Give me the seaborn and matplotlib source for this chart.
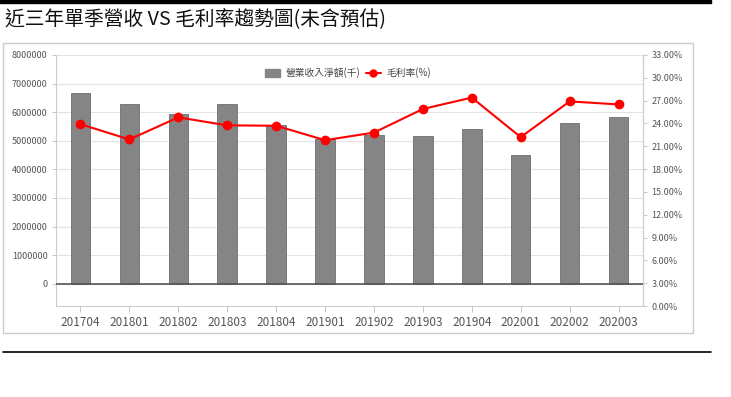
import numpy as np
import pandas as pd
import matplotlib
matplotlib.use("Agg")
import matplotlib.pyplot as plt
import matplotlib.patches as mpatches
from matplotlib.lines import Line2D
import seaborn as sns

sns.set_theme(style="white")
plt.rcParams['font.family'] = ['Noto Sans CJK TC', 'DejaVu Sans']

# data
quarters = ["201704", "201801", "201802", "201803", "201804", "201901",
            "201902", "201903", "201904", "202001", "202002", "202003"]
revenue = [6680000, 6270000, 5920000, 6270000, 5560000, 5070000,
           5190000, 5150000, 5420000, 4510000, 5630000, 5830000]
margin = [23.9, 21.9, 24.8, 23.75, 23.7, 21.8,
          22.8, 25.9, 27.4, 22.2, 26.9, 26.5]
left_ticks = [0, 1000000, 2000000, 3000000, 4000000, 5000000, 6000000, 7000000, 8000000]
right_ticks = [0, 3, 6, 9, 12, 15, 18, 21, 24, 27, 30, 33]

df = pd.DataFrame({"quarter": quarters, "revenue": revenue, "margin": margin})
df["pos"] = np.arange(len(quarters))

fig = plt.figure(figsize=(7.31, 3.97), dpi=100)
ax = fig.add_axes([56 / 731, 91 / 397, 587 / 731, 251 / 397])

bar_color = "#858585"
sns.barplot(data=df, x="quarter", y="revenue", color=bar_color, width=0.4,
            saturation=1, edgecolor="#6e6e6e", linewidth=0.6, ax=ax)
ax.set_xlim(-0.5, len(quarters) - 0.5)
ax.set_ylim(-780000, 8000000)
ax.set_yticks(left_ticks)
ax.set_yticklabels([str(v) for v in left_ticks])
ax.set_xlabel("")
ax.set_ylabel("")
ax.set_axisbelow(True)
ax.yaxis.grid(True, color="#e3e3e3", linewidth=0.8)
ax.axhline(0, color="#555555", linewidth=1.2, zorder=3)
ax.tick_params(axis="y", labelsize=6.5, colors="#555555", length=3, width=0.6,
               color="#bbbbbb", pad=3, left=True)
ax.tick_params(axis="x", labelsize=8.5, colors="#555555", length=4, width=0.6,
               color="#bbbbbb", pad=3, bottom=True)
ax.spines["top"].set_visible(False)
for s in ["left", "bottom", "right"]:
    ax.spines[s].set_color("#cccccc")
    ax.spines[s].set_linewidth(0.8)

ax2 = ax.twinx()
sns.lineplot(data=df, x="pos", y="margin", color="#ff0000", linewidth=1.5,
             marker="o", markersize=7, markeredgewidth=0, ax=ax2)
ax2.set_ylim(0, 33)
ax2.set_yticks(right_ticks)
ax2.set_yticklabels([f"{v:.2f}%" for v in right_ticks])
ax2.set_ylabel("")
ax2.set_xlabel("")
ax2.tick_params(axis="y", labelsize=6.5, colors="#555555", length=3, width=0.6,
                color="#bbbbbb", pad=3, right=True)
for s in ax2.spines.values():
    s.set_visible(False)
ax2.spines["right"].set_visible(True)
ax2.spines["right"].set_color("#cccccc")
ax2.spines["right"].set_linewidth(0.8)
ax2.grid(False)

handles = [mpatches.Patch(color=bar_color, label="營業收入淨額(千)"),
           Line2D([], [], color="#ff0000", marker="o", markersize=5, linewidth=1.5,
                  label="毛利率(%)")]
ax2.legend(handles=handles, loc="upper center", bbox_to_anchor=(0.497, 0.985),
           ncol=2, frameon=False, fontsize=7, handlelength=1.6,
           handleheight=0.9, columnspacing=0.6, handletextpad=0.5,
           labelcolor="#444444")

# chart frame, title and rules
fig.patches.append(mpatches.Rectangle((3 / 731, 64 / 397), 690 / 731, 290 / 397,
                                      transform=fig.transFigure, fill=False,
                                      edgecolor="#cccccc", linewidth=1))
fig.patches.append(mpatches.Rectangle((0, 394 / 397), 711 / 731, 3 / 397,
                                      transform=fig.transFigure, color="black"))
fig.add_artist(Line2D([3 / 731, 711 / 731], [45 / 397, 45 / 397],
                      transform=fig.transFigure, color="black", linewidth=1.2))
fig.text(5 / 731, 377 / 397, "近三年單季營收 VS 毛利率趨勢圖(未含預估)",
         fontsize=14.2, fontweight="light", color="#111111", va="center", ha="left")

fig.savefig("out.png", dpi=100)
